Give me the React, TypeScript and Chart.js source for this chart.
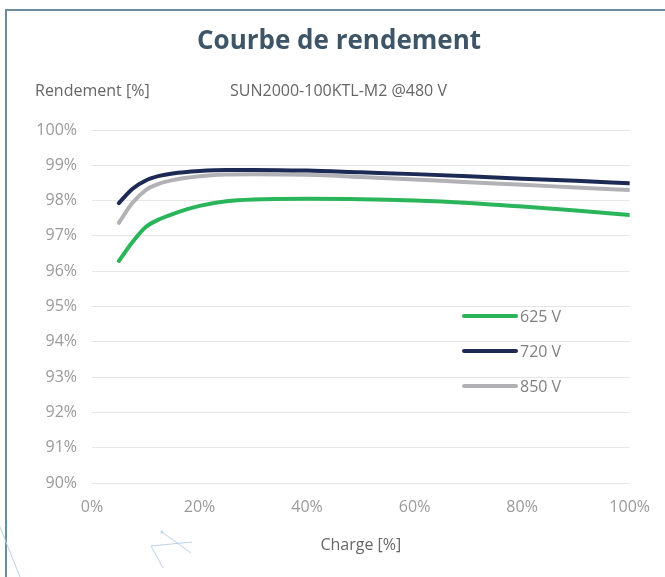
import React, { useEffect, useRef } from "react";
import { Chart, registerables } from "chart.js";

Chart.register(...registerables);

const chartTitle = "Courbe de rendement";
const yAxisLabel = "Rendement [%]";
const subtitle = "SUN2000-100KTL-M2 @480 V";
const xAxisLabel = "Charge [%]";

const loadPct = [5, 7.5, 10, 12.5, 15, 20, 25, 30, 40, 50, 60, 70, 80, 90, 100];
const seriesLabels = ["625 V", "720 V", "850 V"];
const eff625 = [96.29, 96.82, 97.25, 97.47, 97.62, 97.85, 97.98, 98.03, 98.05, 98.04, 98.0, 97.93, 97.83, 97.72, 97.59];
const eff720 = [97.93, 98.33, 98.57, 98.7, 98.77, 98.84, 98.87, 98.87, 98.85, 98.8, 98.75, 98.69, 98.62, 98.56, 98.49];
const eff850 = [97.37, 97.93, 98.3, 98.48, 98.58, 98.69, 98.74, 98.75, 98.73, 98.67, 98.6, 98.52, 98.45, 98.37, 98.3];
const seriesColors = ["#2bb55a", "#1d2a55", "#b1b1b6"];

const FONT = "'Open Sans', 'Noto Sans', sans-serif";

const decorPlugin = {
  id: "decor",
  afterDraw(chart: any) {
    const ctx = chart.ctx;
    ctx.save();
    // title
    ctx.fillStyle = "#3e5567";
    ctx.font = `bold 26px ${FONT}`;
    ctx.textAlign = "center";
    ctx.textBaseline = "middle";
    ctx.fillText(chartTitle, 339, 42);
    // header labels
    ctx.font = `16px ${FONT}`;
    ctx.textAlign = "left";
    ctx.fillStyle = "#666666";
    ctx.fillText(yAxisLabel, 35, 91);
    ctx.fillText(subtitle, 230, 91);
    // legend
    const ys = [316, 351, 386];
    chart.data.datasets.forEach((ds: any, i: number) => {
      ctx.strokeStyle = ds.borderColor;
      ctx.lineWidth = 4;
      ctx.lineCap = "round";
      ctx.beginPath();
      ctx.moveTo(464, ys[i]);
      ctx.lineTo(516, ys[i]);
      ctx.stroke();
      ctx.fillStyle = "#808080";
      ctx.font = `16px ${FONT}`;
      ctx.textAlign = "left";
      ctx.textBaseline = "middle";
      ctx.fillText(ds.label, 520, ys[i] + 1);
    });
    // faint decorative lines
    ctx.strokeStyle = "#bcd2ea";
    ctx.lineWidth = 1;
    ctx.lineCap = "butt";
    const segs = [
      [0, 527, 20, 577],
      [162, 532, 191, 553],
      [151, 546, 192, 542],
      [151, 546, 163, 568],
    ];
    segs.forEach(([a, b, c, d]) => {
      ctx.beginPath();
      ctx.moveTo(a, b);
      ctx.lineTo(c, d);
      ctx.stroke();
    });
    ctx.fillStyle = "#bcd2ea";
    ctx.beginPath();
    ctx.arc(162, 532, 1.5, 0, Math.PI * 2);
    ctx.fill();
    ctx.restore();
  },
};

export default function App() {
  const canvasRef = useRef<HTMLCanvasElement>(null);

  useEffect(() => {
    document.body.style.margin = "0";
    const series = [eff625, eff720, eff850];
    const chart = new Chart(canvasRef.current as HTMLCanvasElement, {
      type: "line",
      data: {
        datasets: series.map((vals, i) => ({
          label: seriesLabels[i],
          data: loadPct.map((x, j) => ({ x, y: vals[j] })),
          borderColor: seriesColors[i],
          backgroundColor: seriesColors[i],
          borderWidth: 4,
          pointRadius: 0,
          borderCapStyle: "round",
          borderJoinStyle: "round",
          cubicInterpolationMode: "monotone",
          fill: false,
        })),
      },
      options: {
        animation: false,
        responsive: false,
        maintainAspectRatio: false,
        layout: { padding: { left: 0, top: 130, right: 35, bottom: 0 } },
        plugins: {
          legend: { display: false },
          title: { display: false },
          tooltip: { enabled: false },
        },
        scales: {
          x: {
            type: "linear",
            min: 0,
            max: 100,
            grid: { display: false, drawTicks: false },
            border: { display: false },
            ticks: {
              stepSize: 20,
              padding: 15,
              color: "#9a9a9a",
              font: { family: FONT, size: 16 },
              callback: (v: any) => v + "%",
            },
            title: {
              display: true,
              text: xAxisLabel,
              color: "#666666",
              font: { family: FONT, size: 16 },
              padding: { top: 0, bottom: 22 },
            },
            afterFit: (scale: any) => {
              scale.height = 94;
            },
          },
          y: {
            min: 90,
            max: 100,
            grid: { color: "#e6e6e6", lineWidth: 1, drawTicks: false },
            border: { display: false },
            ticks: {
              stepSize: 1,
              padding: 15,
              color: "#9a9a9a",
              font: { family: FONT, size: 16 },
              callback: (v: any) => v + "%",
            },
            afterFit: (scale: any) => {
              scale.width = 92;
            },
          },
        },
      },
      plugins: [decorPlugin],
    } as any);
    return () => chart.destroy();
  }, []);

  return (
    <div style={{ position: "fixed", left: 0, top: 0, width: 665, height: 577, background: "#ffffff", overflow: "hidden" }}>
      <div
        style={{
          position: "absolute",
          left: 5,
          top: 9,
          right: -10,
          bottom: -10,
          borderLeft: "2px solid #6b8c9a",
          borderTop: "2px solid #6b8c9a",
        }}
      />
      <canvas ref={canvasRef} width={665} height={577} style={{ position: "absolute", left: 0, top: 0, width: 665, height: 577 }} />
    </div>
  );
}
